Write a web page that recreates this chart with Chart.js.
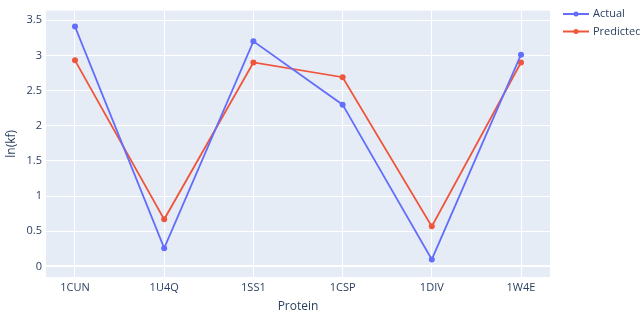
<!DOCTYPE html>
<html>
<head>
<meta charset="utf-8">
<script src="https://cdn.jsdelivr.net/npm/chart.js@4"></script>
<style>
  html, body { margin: 0; padding: 0; background: #fff; }
  #wrap { width: 640px; height: 314px; position: relative; }
</style>
</head>
<body>
<div id="wrap"><canvas id="chart"></canvas></div>
<script>
const proteins = ['1CUN', '1U4Q', '1SS1', '1CSP', '1DIV', '1W4E'];
const actual = [3.41, 0.26, 3.2, 2.3, 0.1, 3.01];
const predicted = [2.93, 0.67, 2.9, 2.69, 0.57, 2.9];
const yTicks = [0, 0.5, 1, 1.5, 2, 2.5, 3, 3.5];

const FONT = '"Open Sans", verdana, arial, sans-serif';
const TXT = '#2a3f5f';
const FS = 11;

const toPoints = arr => arr.map((v, i) => ({ x: i, y: v }));

// plotly-like legend on the right
const sideLegend = {
    id: 'sideLegend',
    afterDraw(chart) {
        const ctx = chart.ctx;
        ctx.save();
        chart.data.datasets.forEach((ds, i) => {
            const y = 14 + i * 17.5;
            ctx.strokeStyle = ds.borderColor;
            ctx.lineWidth = 2;
            ctx.beginPath();
            ctx.moveTo(563, y);
            ctx.lineTo(589, y);
            ctx.stroke();
            ctx.fillStyle = ds.borderColor;
            ctx.beginPath();
            ctx.arc(576, y, 2.5, 0, Math.PI * 2);
            ctx.fill();
            ctx.fillStyle = TXT;
            ctx.font = FS + 'px ' + FONT;
            ctx.textBaseline = 'middle';
            ctx.fillText(ds.label, 593, y);
        });
        ctx.restore();
    }
};

new Chart(document.getElementById('chart'), {
    type: 'line',
    data: {
        datasets: [
            { label: 'Actual', data: toPoints(actual), borderColor: '#636efa', backgroundColor: '#636efa', borderWidth: 1.8, pointRadius: 3, pointBorderWidth: 0, pointHoverRadius: 3, tension: 0 },
            { label: 'Predicted', data: toPoints(predicted), borderColor: '#EF553B', backgroundColor: '#EF553B', borderWidth: 1.8, pointRadius: 3, pointBorderWidth: 0, pointHoverRadius: 3, tension: 0 }
        ]
    },
    options: {
        responsive: true, maintainAspectRatio: false, animation: false,
        layout: { padding: { left: 0, right: 90, top: 0, bottom: 0 } },
        plugins: { legend: { display: false }, tooltip: { enabled: false } },
        scales: {
            x: {
                type: 'linear', min: -0.325, max: 5.325,
                afterBuildTicks: axis => { axis.ticks = proteins.map((p, i) => ({ value: i })); },
                afterFit: axis => { axis.height = 37; },
                ticks: { color: TXT, font: { family: FONT, size: FS }, padding: 4, maxRotation: 0, autoSkip: false,
                    callback: v => proteins[v] },
                grid: { color: '#ffffff', lineWidth: 1, drawTicks: false },
                border: { display: false },
                title: { display: true, text: 'Protein', color: TXT, font: { family: FONT, size: 12 }, padding: { top: 0, bottom: 0 } }
            },
            y: {
                min: -0.15, max: 3.637,
                afterBuildTicks: axis => { axis.ticks = yTicks.map(v => ({ value: v })); },
                afterFit: axis => { axis.width = 46; },
                ticks: { color: TXT, font: { family: FONT, size: FS }, padding: 4, callback: v => String(v) },
                grid: { color: '#ffffff', lineWidth: ctx => (ctx.tick && ctx.tick.value === 0 ? 2 : 1), drawTicks: false },
                border: { display: false },
                title: { display: true, text: 'ln(kf)', color: TXT, font: { family: FONT, size: 12 }, padding: { top: 4, bottom: 4 } }
            }
        }
    },
    plugins: [{
        id: 'plotBg',
        beforeDraw(chart) {
            const a = chart.chartArea, ctx = chart.ctx;
            ctx.save();
            ctx.fillStyle = '#E5ECF6';
            ctx.fillRect(a.left, a.top, a.right - a.left, a.bottom - a.top);
            ctx.restore();
        }
    }, sideLegend]
});
</script>
</body>
</html>
